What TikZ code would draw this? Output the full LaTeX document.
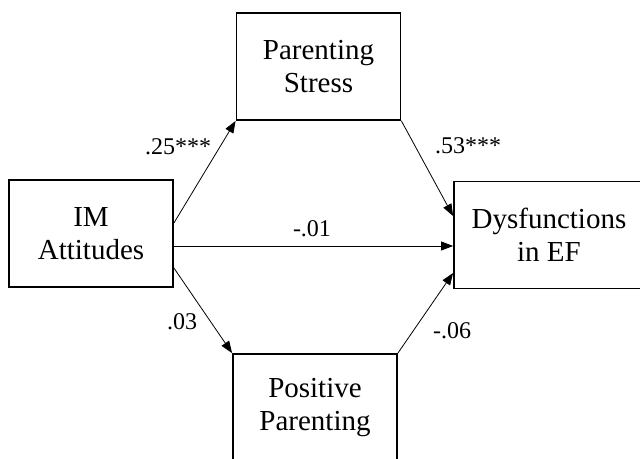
\documentclass[tikz,border=0pt]{standalone}
\usepackage{fontspec}
\setmainfont{Liberation Serif}
\usepackage{tikz}
\usetikzlibrary{arrows.meta,positioning,calc}

\begin{document}
\begin{tikzpicture}[
        x=1pt, y=-1pt,
        var/.style={
            draw, line width=1.8pt, fill=white,
            minimum width=164pt, minimum height=107pt,
            align=center, font=\fontsize{29}{33}\selectfont
        },
        path/.style={-{Triangle[length=12pt,width=9pt]}, line width=0.8pt},
        coef/.style={font=\fontsize{24}{28}\selectfont, inner sep=0pt}
    ]

    \clip (0,0) rectangle (640,458);

    % Variables
    \node[var] (im) at (91,233.5) {IM\\Attitudes};
    \node[var] (ps) at (318.5,66.5) {Parenting\\Stress};
    \node[var, minimum width=190pt] (ef) at (549,235) {Dysfunctions\\in EF};
    \node[var] (pp) at (315,407.5) {Positive\\Parenting};

    % Paths
    \draw[path] ($(im.east)+(0,-10.5)$) -- (ps.south west);
    \draw[path] ($(im.east)+(0,12.5)$) -- ($(ef.west)+(0,11)$);
    \draw[path] ($(im.east)+(0,34.5)$) -- (pp.north west);
    \draw[path] (ps.south east) -- ($(ef.west)+(0,-19)$);
    \draw[path] (pp.north east) -- ($(ef.west)+(0,38)$);

    % Coefficients
    \node[coef] (a) at (178,147) {.25***};
    \node[coef] (b) at (468,146) {.53***};
    \node[coef] (c) at (312,229) {-.01};
    \node[coef] (d) at (182,322) {.03};
    \node[coef] (e) at (452,331) {-.06};

\end{tikzpicture}
\end{document}
